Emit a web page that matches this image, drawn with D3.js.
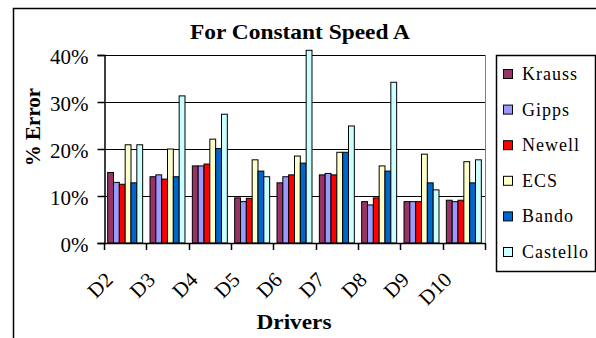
<!DOCTYPE html>
<html>
<head>
<meta charset="utf-8">
<script src="https://cdn.jsdelivr.net/npm/d3@7"></script>
<style>
  html, body { margin: 0; padding: 0; background: #fff; }
  svg { display: block; }
</style>
</head>
<body>
<svg id="chart" width="596" height="338"></svg>
<script>
// Percentage error per driver for each car-following model
const drivers = ["D2", "D3", "D4", "D5", "D6", "D7", "D8", "D9", "D10"];
const models = ["Krauss", "Gipps", "Newell", "ECS", "Bando", "Castello"];
const colors = ["#993366", "#9999FF", "#FF0000", "#FFFFCC", "#0066CC", "#CCFFFF"];

const krauss   = [15.0, 14.1, 16.4,  9.6, 12.8, 14.5,  8.8,  8.8,  9.1];
const gipps    = [12.9, 14.5, 16.4,  8.8, 14.1, 14.8,  8.1,  8.8,  8.8];
const newell   = [12.5, 13.6, 16.8,  9.5, 14.5, 14.5,  9.6,  8.8,  9.1];
const ecs      = [20.9, 20.0, 22.1, 17.7, 18.5, 19.3, 16.4, 18.9, 17.3];
const bando    = [12.8, 14.1, 20.1, 15.3, 17.0, 19.3, 15.3, 12.8, 12.8];
const castello = [20.9, 31.3, 27.4, 14.1, 41.0, 24.9, 34.2, 11.3, 17.7];
const series = [krauss, gipps, newell, ecs, bando, castello];

const yTicks = [0, 10, 20, 30, 40];

const SERIF = "'Liberation Serif', 'Times New Roman', Times, serif";

const svg = d3.select("#chart");

// outer chart frame
svg.append("rect")
  .attr("x", 13.5).attr("y", 8.5)
  .attr("width", 600).attr("height", 400)
  .attr("fill", "none").attr("stroke", "#000").attr("stroke-width", 1.5);

const plot = { left: 104, right: 485, top: 55, bottom: 243 };

const x0 = d3.scaleBand().domain(drivers).range([plot.left, plot.right]).padding(0);
const x1 = d3.scaleBand().domain(models).range([0, x0.bandwidth()])
  .paddingInner(0).paddingOuter(0.63);
const y = d3.scaleLinear().domain([0, 40]).range([plot.bottom, plot.top]);

// gridlines
svg.append("g").selectAll("line").data(yTicks.filter(d => d > 0)).join("line")
  .attr("x1", plot.left).attr("x2", plot.right)
  .attr("y1", d => Math.round(y(d)) + 0.5).attr("y2", d => Math.round(y(d)) + 0.5)
  .attr("stroke", "#000").attr("stroke-width", 1);

// right border of the plot area
svg.append("line")
  .attr("x1", plot.right + 0.5).attr("x2", plot.right + 0.5)
  .attr("y1", plot.top).attr("y2", plot.bottom)
  .attr("stroke", "#808080");

// bars
const rows = drivers.map((d, i) => ({ driver: d, values: models.map((m, j) => ({ model: m, value: series[j][i], color: colors[j] })) }));
const clipId = "plotclip";
svg.append("clipPath").attr("id", clipId).append("rect")
  .attr("x", plot.left - 2).attr("y", plot.top - 6)
  .attr("width", plot.right - plot.left + 4).attr("height", plot.bottom - plot.top + 6);

svg.append("g").attr("clip-path", `url(#${clipId})`)
  .selectAll("g").data(rows).join("g")
  .attr("transform", d => `translate(${x0(d.driver)},0)`)
  .selectAll("rect").data(d => d.values).join("rect")
  .attr("x", d => x1(d.model))
  .attr("y", d => y(d.value))
  .attr("width", x1.bandwidth())
  .attr("height", d => y(0) - y(d.value))
  .attr("fill", d => d.color)
  .attr("stroke", "#000").attr("stroke-width", 1);

// y axis
const yAxis = svg.append("g")
  .attr("transform", `translate(${plot.left + 0.5},0)`)
  .call(d3.axisLeft(y).tickValues(yTicks).tickFormat(d => d + "%").tickSize(7).tickPadding(9));
yAxis.select(".domain").attr("stroke", "#000").attr("stroke-width", 1.5);
yAxis.selectAll(".tick line").attr("stroke", "#000").attr("stroke-width", 1.5);
yAxis.selectAll(".tick text")
  .style("font-family", SERIF).style("font-size", "21px")
  .attr("fill", "#000")
  .attr("dy", "0.42em").attr("x", -16);

// x axis: ticks at category boundaries
const xBounds = drivers.map(d => x0(d)).concat([plot.right]);
const xAxisG = svg.append("g");
xAxisG.append("line")
  .attr("x1", plot.left).attr("x2", plot.right)
  .attr("y1", plot.bottom + 0.5).attr("y2", plot.bottom + 0.5)
  .attr("stroke", "#000").attr("stroke-width", 1.5);
xAxisG.selectAll("line.tk").data(xBounds).join("line").attr("class", "tk")
  .attr("x1", d => Math.round(d) + 0.5).attr("x2", d => Math.round(d) + 0.5)
  .attr("y1", plot.bottom).attr("y2", plot.bottom + 7)
  .attr("stroke", "#000").attr("stroke-width", 1.5);
xAxisG.selectAll("text").data(drivers).join("text")
  .attr("transform", d => `translate(${x0(d) + x0.bandwidth() / 2 - 11},281) rotate(-45)`)
  .attr("text-anchor", "end")
  .style("font-family", SERIF).style("font-size", "21px")
  .text(d => d);

// titles
svg.append("text")
  .attr("x", 300).attr("y", 39)
  .attr("text-anchor", "middle")
  .style("font-family", SERIF).style("font-size", "22px").style("font-weight", "bold")
  .attr("textLength", 220).attr("lengthAdjust", "spacingAndGlyphs")
  .text("For Constant Speed A");

svg.append("text")
  .attr("transform", "translate(40,127) rotate(-90)")
  .attr("text-anchor", "middle")
  .style("font-family", SERIF).style("font-size", "21px").style("font-weight", "bold")
  .text("% Error");

svg.append("text")
  .attr("x", 294).attr("y", 329)
  .attr("text-anchor", "middle")
  .style("font-family", SERIF).style("font-size", "22px").style("font-weight", "bold")
  .attr("textLength", 75).attr("lengthAdjust", "spacingAndGlyphs")
  .text("Drivers");

// legend
const legend = svg.append("g");
legend.append("rect")
  .attr("x", 496.5).attr("y", 55.5).attr("width", 99).attr("height", 216)
  .attr("fill", "#fff").attr("stroke", "#000").attr("stroke-width", 1.5);
const ly = d3.scalePoint().domain(models).range([74, 252]);
const items = legend.selectAll("g.item").data(models.map((m, j) => ({ m, c: colors[j] }))).join("g")
  .attr("class", "item")
  .attr("transform", d => `translate(0,${ly(d.m)})`);
items.append("rect")
  .attr("x", 503.5).attr("y", -4.5).attr("width", 9).attr("height", 9)
  .attr("fill", d => d.c).attr("stroke", "#000").attr("stroke-width", 1);
items.append("text")
  .attr("x", 522).attr("y", 6)
  .style("font-family", SERIF).style("font-size", "18px").style("letter-spacing", "1px")
  .text(d => d.m);
</script>
</body>
</html>
